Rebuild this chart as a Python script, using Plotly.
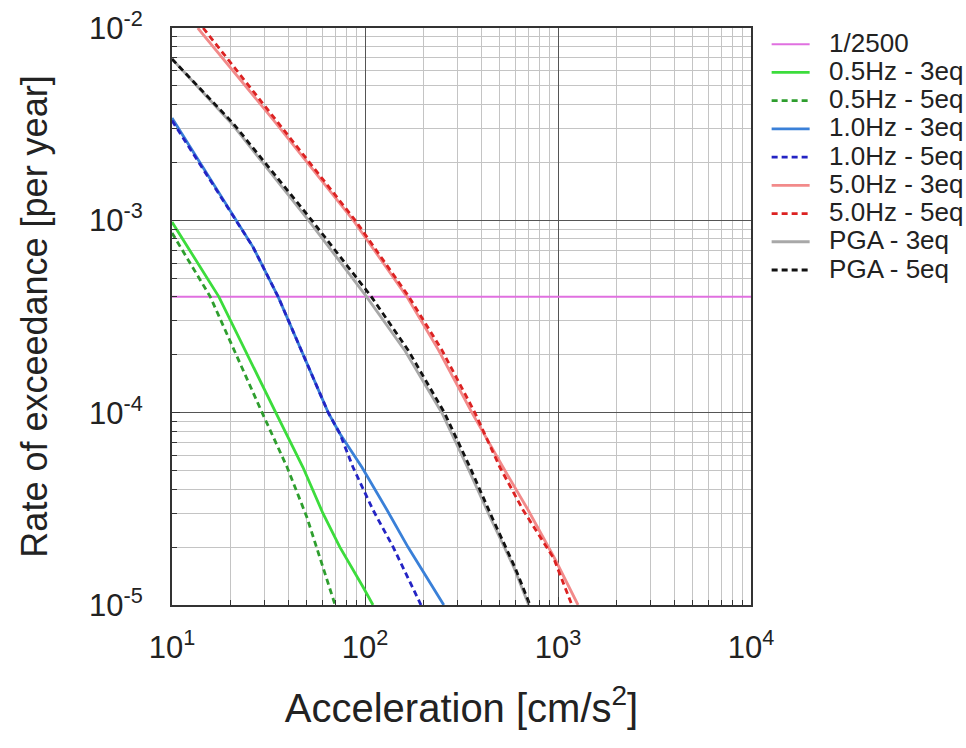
import plotly.graph_objects as go

# Hazard curves: acceleration [cm/s^2] vs annual rate of exceedance
target_rate = 1 / 2500
target_x = [10, 10000]

hz05_3eq_x = [10, 17.5, 34.5, 47.7, 60.5, 74.1, 97.7, 110]
hz05_3eq_y = [9.8e-4, 4.0e-4, 1.0e-4, 5.2e-5, 3.0e-5, 2.0e-5, 1.24e-5, 1.0e-5]

hz05_5eq_x = [10, 15.8, 29.3, 39.5, 50, 70]
hz05_5eq_y = [8.6e-4, 4.0e-4, 1.0e-4, 5.2e-5, 2.86e-5, 1.0e-5]

hz10_3eq_x = [10, 26.3, 35.5, 64.5, 74, 96.4, 130, 167, 256]
hz10_3eq_y = [3.4e-3, 7.26e-4, 4.0e-4, 1.0e-4, 7.8e-5, 5.2e-5, 3.12e-5, 2.0e-5, 1.0e-5]

hz10_5eq_x = [10, 26.3, 35.5, 64.5, 74, 86.7, 110, 140, 195]
hz10_5eq_y = [3.3e-3, 7.26e-4, 4.0e-4, 1.0e-4, 7.8e-5, 5.2e-5, 3.12e-5, 2.0e-5, 1.0e-5]

hz50_3eq_x = [13.6, 33.5, 87, 165, 240, 358, 519, 700, 960, 1270]
hz50_3eq_y = [1.0e-2, 3.33e-3, 1.0e-3, 4.0e-4, 2.12e-4, 1.0e-4, 5.2e-5, 3.12e-5, 1.75e-5, 1.0e-5]

hz50_5eq_x = [14.5, 34.5, 89, 169, 250, 371, 500, 659, 950, 1180]
hz50_5eq_y = [1.0e-2, 3.33e-3, 1.0e-3, 4.0e-4, 2.12e-4, 1.0e-4, 5.2e-5, 3.12e-5, 1.75e-5, 1.0e-5]

pga_3eq_x = [10, 20.3, 51, 102, 160, 250, 340, 445, 590, 705]
pga_3eq_y = [6.9e-3, 3.2e-3, 1.0e-3, 4.0e-4, 2.12e-4, 1.0e-4, 5.2e-5, 2.86e-5, 1.57e-5, 1.0e-5]

pga_5eq_x = [10, 20.7, 53, 108, 167, 258, 350, 455, 598, 716]
pga_5eq_y = [6.9e-3, 3.2e-3, 1.0e-3, 4.0e-4, 2.12e-4, 1.0e-4, 5.2e-5, 2.86e-5, 1.57e-5, 1.0e-5]

x_tickvals = [10, 100, 1000, 10000]
x_ticktext = ["10<sup>1</sup>", "10<sup>2</sup>", "10<sup>3</sup>", "10<sup>4</sup>"]
y_tickvals = [1e-5, 1e-4, 1e-3, 1e-2]
y_ticktext = ["10<sup>-5</sup>", "10<sup>-4</sup>", "10<sup>-3</sup>", "10<sup>-2</sup>"]

x_minor = [m * 10 ** e for e in range(1, 4) for m in range(2, 10)]
y_minor = [m * 10.0 ** e for e in range(-5, -2) for m in range(2, 10)]

series = [
    ("1/2500", target_x, [target_rate, target_rate], "#e070e0", "solid", 2),
    ("0.5Hz - 3eq", hz05_3eq_x, hz05_3eq_y, "#3cdc3c", "solid", 2.8),
    ("0.5Hz - 5eq", hz05_5eq_x, hz05_5eq_y, "#2e9e2e", "6px,4px", 2.8),
    ("1.0Hz - 3eq", hz10_3eq_x, hz10_3eq_y, "#3a80d8", "solid", 2.8),
    ("1.0Hz - 5eq", hz10_5eq_x, hz10_5eq_y, "#2424c4", "6px,4px", 2.8),
    ("5.0Hz - 3eq", hz50_3eq_x, hz50_3eq_y, "#f28a8a", "solid", 2.8),
    ("5.0Hz - 5eq", hz50_5eq_x, hz50_5eq_y, "#dc2222", "6px,4px", 2.8),
    ("PGA - 3eq", pga_3eq_x, pga_3eq_y, "#a8a8a8", "solid", 2.8),
    ("PGA - 5eq", pga_5eq_x, pga_5eq_y, "#111111", "6px,4px", 2.8),
]

fig = go.Figure()
for name, xs, ys, color, dash, width in series:
    fig.add_trace(go.Scatter(
        x=xs, y=ys, mode="lines",
        name='<span style="font-size:26px">\u00a0\u00a0' + name + "</span>",
        line=dict(color=color, dash=dash, width=width),
    ))

font_family = "Arial, Liberation Sans, sans-serif"

fig.update_xaxes(
    type="log", range=[1, 4], automargin=False,
    tickvals=x_tickvals, ticktext=x_ticktext,
    tickfont=dict(size=31, color="#222"),
    ticks="inside", ticklen=8, tickcolor="#333",
    ticklabelstandoff=14,
    showline=True, linecolor="#333", linewidth=2, mirror=True,
    showgrid=True, gridcolor="#555", gridwidth=1,
    minor=dict(tickvals=x_minor, showgrid=True, gridcolor="#c4c4c4", gridwidth=1,
               ticks="inside", ticklen=5, tickcolor="#333"),
    title=dict(text="Acceleration [cm/s<sup>2</sup>]", font=dict(size=40, color="#222"), standoff=30),
    zeroline=False,
)
fig.update_yaxes(
    type="log", range=[-5, -2], automargin=False,
    tickvals=y_tickvals, ticktext=y_ticktext,
    tickfont=dict(size=31, color="#222"),
    ticks="inside", ticklen=8, tickcolor="#333",
    ticklabelstandoff=21,
    showline=True, linecolor="#333", linewidth=2, mirror=True,
    showgrid=True, gridcolor="#555", gridwidth=1,
    minor=dict(tickvals=y_minor, showgrid=True, gridcolor="#c4c4c4", gridwidth=1,
               ticks="inside", ticklen=5, tickcolor="#333"),
    title=dict(text="Rate of exceedance [per year]", font=dict(size=36, color="#222"), standoff=30),
    zeroline=False,
)

fig.update_layout(
    width=966, height=748,
    margin=dict(l=172, r=215, t=28, b=143, autoexpand=False),
    paper_bgcolor="white", plot_bgcolor="white",
    font=dict(family=font_family, color="#222"),
    legend=dict(
        x=1.027, y=1.005, xanchor="left", yanchor="top",
        font=dict(size=19.4, color="#222"),
        itemwidth=38,
        bgcolor="rgba(0,0,0,0)",
    ),
)

fig.write_html("out.html")
